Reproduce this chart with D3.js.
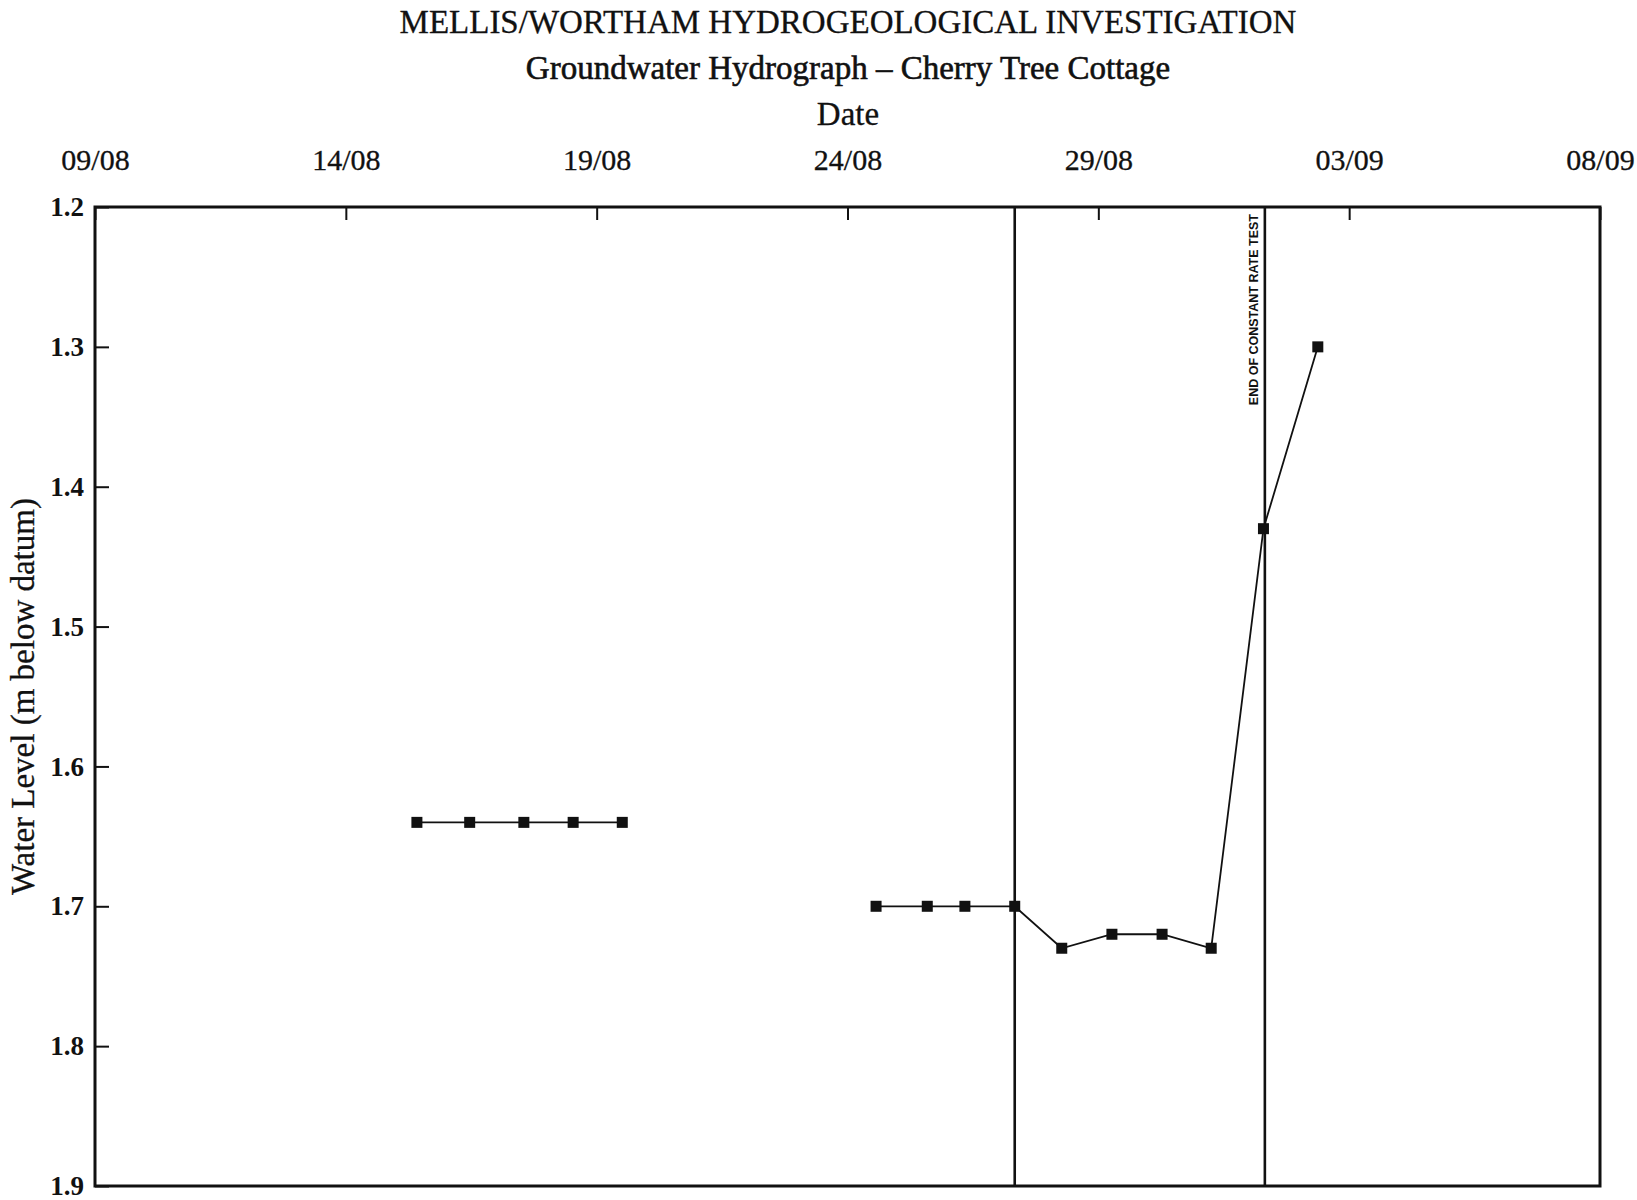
<!DOCTYPE html>
<html>
<head>
<meta charset="utf-8">
<script src="https://cdn.jsdelivr.net/npm/d3@7"></script>
<style>
  body { margin: 0; background: #fff; }
  text { font-family: "Liberation Serif", "Times New Roman", serif; fill: #111; }
</style>
</head>
<body>
<div id="hydrograph"></div>
<script>
"use strict";

const width = 1637,
      height = 1200;

const margin = { top: 207, right: 37, bottom: 14, left: 95 };

// readings before the test (not joined to the test run)
const preTestDates = ["15/08 10:00", "16/08 11:15", "17/08 13:10", "18/08 12:45", "19/08 12:15"];
const preTestLevels = [1.64, 1.64, 1.64, 1.64, 1.64];

// readings through the constant rate test and recovery
const testDates = ["24/08 13:40", "25/08 14:10", "26/08 08:10", "27/08 08:00", "28/08 06:30",
                   "29/08 06:30", "30/08 06:30", "31/08 06:00", "01/09 07:00", "02/09 09:00"];
const testLevels = [1.70, 1.70, 1.70, 1.70, 1.73, 1.72, 1.72, 1.73, 1.43, 1.30];

// vertical event lines
const eventDates = ["27/08 08:00", "01/09 07:40"];
const eventLabels = ["", "END OF CONSTANT RATE TEST"];

const dateTicks = ["09/08", "14/08", "19/08", "24/08", "29/08", "03/09", "08/09"];
const levelTicks = [1.2, 1.3, 1.4, 1.5, 1.6, 1.7, 1.8, 1.9];

// the year is not on the chart, any will do
const parseDate = d3.utcParse("%d/%m/%Y %H:%M");
const toDate = s => {
  const [dm, hm] = s.split(" ");
  return parseDate(dm + "/1993 " + (hm || "00:00"));
};

const x = d3.scaleUtc()
  .domain([toDate("09/08"), toDate("08/09")])
  .range([margin.left, width - margin.right]);

const y = d3.scaleLinear()
  .domain([1.2, 1.9])
  .range([margin.top, height - margin.bottom]);

const svg = d3.select("#hydrograph")
  .append("svg")
  .attr("width", width)
  .attr("height", height)
  .attr("viewBox", `0 0 ${width} ${height}`);

// titles
svg.append("text")
  .attr("x", 848)
  .attr("y", 33)
  .attr("text-anchor", "middle")
  .style("font-size", "33px")
  .style("stroke", "#111")
  .style("stroke-width", 0.3)
  .text("MELLIS/WORTHAM HYDROGEOLOGICAL INVESTIGATION");

svg.append("text")
  .attr("x", 848)
  .attr("y", 79)
  .attr("text-anchor", "middle")
  .style("font-size", "33px")
  .style("stroke", "#111")
  .style("stroke-width", 0.6)
  .text("Groundwater Hydrograph \u2013 Cherry Tree Cottage");

svg.append("text")
  .attr("x", 848)
  .attr("y", 125)
  .attr("text-anchor", "middle")
  .style("font-size", "33px")
  .style("stroke", "#111")
  .style("stroke-width", 0.3)
  .text("Date");

// date axis along the top, ticks pointing into the plot
const xAxis = d3.axisTop(x)
  .tickValues(dateTicks.map(toDate))
  .tickFormat(d3.utcFormat("%d/%m"))
  .tickSize(-13)
  .tickPadding(37);

svg.append("g")
  .attr("transform", `translate(0,${margin.top})`)
  .call(xAxis)
  .call(g => g.select(".domain").remove())
  .call(g => g.selectAll(".tick line").attr("stroke", "#111").attr("stroke-width", 2))
  .call(g => g.selectAll(".tick text")
    .style("font-family", "'Liberation Serif', serif")
    .style("font-size", "30px")
    .style("stroke", "#111")
    .style("stroke-width", 0.3)
    .attr("fill", "#111"));

// level axis, ticks pointing into the plot
const yAxis = d3.axisLeft(y)
  .tickValues(levelTicks)
  .tickFormat(d3.format(".1f"))
  .tickSize(-14)
  .tickPadding(11);

svg.append("g")
  .attr("transform", `translate(${margin.left},0)`)
  .call(yAxis)
  .call(g => g.select(".domain").remove())
  .call(g => g.selectAll(".tick line").attr("stroke", "#111").attr("stroke-width", 2))
  .call(g => g.selectAll(".tick text")
    .style("font-family", "'Liberation Serif', serif")
    .style("font-size", "27px")
    .style("font-weight", "bold")
    .attr("fill", "#111"));

svg.append("text")
  .attr("transform", `translate(34,${(margin.top + height - margin.bottom) / 2}) rotate(-90)`)
  .attr("text-anchor", "middle")
  .style("font-size", "33px")
  .style("stroke", "#111")
  .style("stroke-width", 0.3)
  .text("Water Level (m below datum)");

// plot frame
svg.append("rect")
  .attr("x", margin.left)
  .attr("y", margin.top)
  .attr("width", width - margin.left - margin.right)
  .attr("height", height - margin.top - margin.bottom)
  .attr("fill", "none")
  .attr("stroke", "#111")
  .attr("stroke-width", 3);

// event lines
const events = eventDates.map((d, i) => ({ date: toDate(d), label: eventLabels[i] }));

svg.selectAll(".event")
  .data(events)
  .join("line")
    .attr("class", "event")
    .attr("x1", d => x(d.date))
    .attr("x2", d => x(d.date))
    .attr("y1", margin.top)
    .attr("y2", height - margin.bottom)
    .attr("stroke", "#111")
    .attr("stroke-width", 2.6);

svg.selectAll(".event-label")
  .data(events.filter(d => d.label))
  .join("text")
    .attr("class", "event-label")
    .attr("transform", d => `translate(${x(d.date) - 7},${margin.top + 7}) rotate(-90)`)
    .attr("text-anchor", "end")
    .style("font-family", "'Liberation Sans', sans-serif")
    .style("font-weight", "bold")
    .style("font-size", "12.5px")
    .text(d => d.label);

// series
const preTest = preTestDates.map((d, i) => ({ date: toDate(d), level: preTestLevels[i] }));
const testRun = testDates.map((d, i) => ({ date: toDate(d), level: testLevels[i] }));

const line = d3.line()
  .x(d => x(d.date))
  .y(d => y(d.level));

svg.selectAll(".series")
  .data([preTest, testRun])
  .join("path")
    .attr("class", "series")
    .attr("d", line)
    .attr("fill", "none")
    .attr("stroke", "#111")
    .attr("stroke-width", 1.8);

const markSize = 11;

svg.selectAll(".reading")
  .data(preTest.concat(testRun))
  .join("rect")
    .attr("class", "reading")
    .attr("x", d => x(d.date) - markSize / 2)
    .attr("y", d => y(d.level) - markSize / 2)
    .attr("width", markSize)
    .attr("height", markSize)
    .attr("fill", "#111");
</script>
</body>
</html>
